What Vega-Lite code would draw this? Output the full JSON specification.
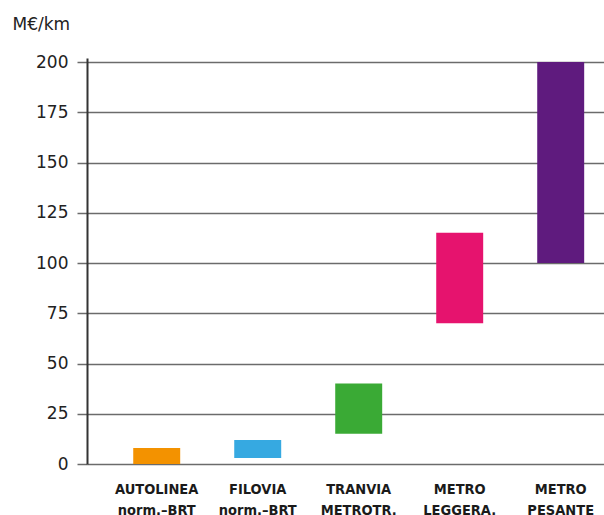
{
  "$schema": "https://vega.github.io/schema/vega-lite/v6.json",
  "autosize": {"type": "none"},
  "width": 517,
  "height": 406,
  "padding": {"left": 87, "top": 58, "right": 0, "bottom": 51},
  "background": "white",
  "config": {
    "view": {"stroke": null},
    "font": "DejaVu Sans"
  },
  "data": {
    "values": [
      {"mezzo": "AUTOLINEA|norm.–BRT", "min": 0, "max": 8, "colore": "#F39200"},
      {"mezzo": "FILOVIA|norm.–BRT", "min": 3, "max": 12, "colore": "#36A9E1"},
      {"mezzo": "TRANVIA|METROTR.", "min": 15, "max": 40, "colore": "#3AAA35"},
      {"mezzo": "METRO|LEGGERA.", "min": 70, "max": 115, "colore": "#E6136E"},
      {"mezzo": "METRO|PESANTE", "min": 100, "max": 200, "colore": "#5F1B7E"}
    ]
  },
  "mark": {"type": "bar"},
  "encoding": {
    "x": {
      "field": "mezzo",
      "type": "nominal",
      "sort": null,
      "scale": {"paddingInner": 0.535, "paddingOuter": 0.327, "align": 0.7},
      "axis": {
        "title": null,
        "domain": false,
        "ticks": false,
        "grid": false,
        "labelAngle": 0,
        "labelExpr": "split(datum.label, '|')",
        "labelFont": "DejaVu Sans Condensed",
        "labelFontWeight": "bold",
        "labelFontSize": 14.5,
        "labelColor": "#1a1a1a",
        "labelLineHeight": 21,
        "labelBaseline": "top",
        "labelPadding": 18
      }
    },
    "y": {
      "field": "min",
      "type": "quantitative",
      "scale": {"domain": [0, 202], "nice": false},
      "axis": {
        "values": [0, 25, 50, 75, 100, 125, 150, 175, 200],
        "title": "M€/km",
        "titleAngle": 0,
        "titleAlign": "left",
        "titleBaseline": "alphabetic",
        "titleX": -75,
        "titleY": -29,
        "titleFont": "DejaVu Sans",
        "titleFontSize": 17,
        "titleFontWeight": "normal",
        "titleColor": "#222222",
        "labelFont": "DejaVu Sans",
        "labelFontSize": 17,
        "labelColor": "#222222",
        "labelPadding": 9,
        "tickSize": 10,
        "tickColor": "#6b6b6b",
        "tickWidth": 1.5,
        "grid": true,
        "gridColor": "#6b6b6b",
        "gridWidth": 1.5,
        "gridOpacity": 1,
        "domainColor": "#333333",
        "domainWidth": 2
      }
    },
    "y2": {"field": "max"},
    "color": {"field": "colore", "type": "nominal", "scale": null, "legend": null}
  }
}
